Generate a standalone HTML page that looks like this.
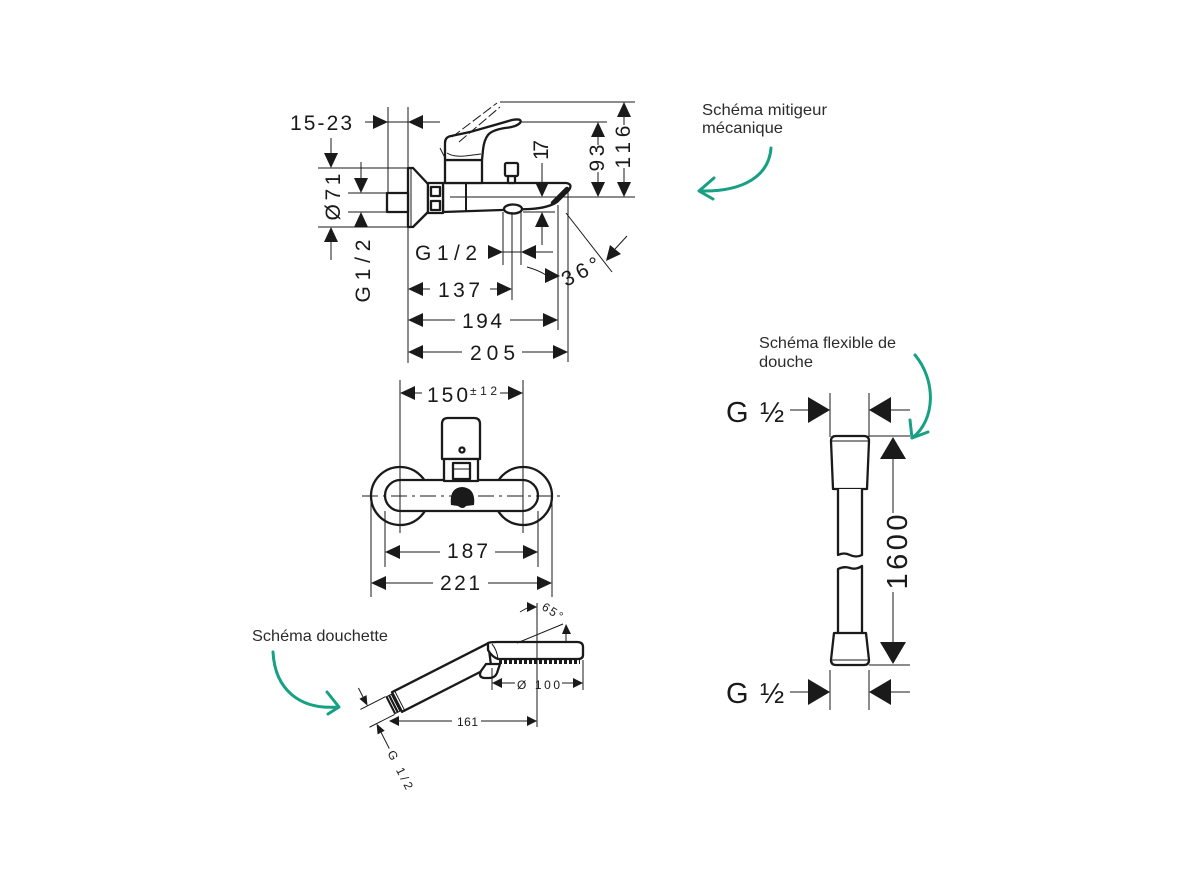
<!DOCTYPE html>
<html><head><meta charset="utf-8">
<style>
html,body{margin:0;padding:0;background:#fff;}
svg{display:block;}
.d{stroke:#1a1a1a;stroke-width:1;fill:none;}
.o{stroke:#1a1a1a;stroke-width:2.3;fill:#fff;stroke-linejoin:round;}
.a{fill:#1a1a1a;stroke:none;}
.t{font-family:"Liberation Sans",sans-serif;font-size:21px;fill:#1a1a1a;}
.s{font-family:"Liberation Sans",sans-serif;font-size:12px;fill:#1a1a1a;}
.h{font-family:"Liberation Sans","DejaVu Sans",sans-serif;font-size:29px;fill:#1a1a1a;}
.l{font-family:"Liberation Sans","DejaVu Sans",sans-serif;font-size:16px;fill:#2b2b2b;}
.g{stroke:#17a083;stroke-width:3;fill:none;stroke-linecap:round;stroke-linejoin:round;}
</style></head><body>
<svg width="1186" height="889" viewBox="0 0 1186 889" xmlns="http://www.w3.org/2000/svg">
<rect width="1186" height="889" fill="#fff"/>

<!-- ================= TOP FAUCET (side view) ================= -->
<!-- body -->
<path class="o" d="M443,183 H566 Q573,184 569,190 L557,202 Q548,208 530,209 L443,212 Z"/>
<line x1="567" y1="189" x2="553" y2="203" stroke="#1a1a1a" stroke-width="4.5" stroke-linecap="round"/>
<line x1="466" y1="183" x2="466" y2="212" stroke="#1a1a1a" stroke-width="2"/>
<ellipse cx="513" cy="209" rx="9" ry="4.5" class="o" stroke-width="2"/>
<!-- diverter knob -->
<rect x="508" y="176" width="7" height="7" class="o" stroke-width="2"/>
<rect x="505" y="163" width="13" height="13" rx="1.5" class="o" stroke-width="2"/>
<!-- housing -->
<rect x="445" y="160" width="37" height="23" class="o"/>
<!-- lever -->
<path class="o" d="M445,160 V143 Q445,137 451,136 L470,132 Q495,125 512,120 Q523,118 520,123 Q516,127 505,128 Q492,130 488,135 Q484,140 483,150 L482,160 Z"/>
<path class="d" stroke-width="1.5" d="M447,153 Q453,157 465,156 L481,154"/>
<!-- ghost lever -->
<path class="d" stroke-dasharray="10 3" d="M452,137 L497,103 M459,142 L500,107 M440,148 L445,158"/>
<!-- rosette, nut, stub -->
<polygon class="o" points="408,168 413,168 428,184 428,212 413,227 408,227"/>
<line x1="411" y1="169" x2="411" y2="226" class="d"/>
<rect x="428" y="183" width="15" height="30" class="o"/>
<rect x="431" y="187" width="9" height="9" class="o" stroke-width="2"/>
<rect x="431" y="201" width="9" height="9" class="o" stroke-width="2"/>
<rect x="387" y="193" width="21" height="19" class="o"/>

<!-- dimension lines -->
<path class="d" d="M365,122H440 M388,107V193 M408,107V363 M318,168H408 M318,227H408 M348,193H387 M348,212H387
M331,138V155 M331,242V260 M361,162V180
M450,197H635 M500,102H635 M520,122H607
M624,117V125 M624,168V182 M598,137V145 M598,172V182
M542,163V182 M542,227V245 M523,212H555
M503,212V265 M512,212V300 M521,212V265 M503,252H521 M536,252H553
M566,213L612,272 M615,249L627,236 M527,267Q538,270 546,275
M558,205V330 M568,192V362
M423,289H430 M490,289H497 M423,320H455 M510,320H543 M423,352H462 M522,352H553"/>
<!-- arrowheads -->
<g class="a">
<polygon points="373,115 388,122 373,129"/>
<polygon points="423,115 408,122 423,129"/>
<polygon points="324,153 331,168 338,153"/>
<polygon points="324,242 331,227 338,242"/>
<polygon points="354,178 361,193 368,178"/>
<polygon points="354,227 361,212 368,227"/>
<polygon points="535,182 542,197 549,182"/>
<polygon points="535,227 542,212 549,227"/>
<polygon points="591,137 598,122 605,137"/>
<polygon points="591,182 598,197 605,182"/>
<polygon points="617,117 624,102 631,117"/>
<polygon points="617,182 624,197 631,182"/>
<polygon points="488,245 503,252 488,259"/>
<polygon points="536,245 521,252 536,259"/>
<polygon points="621,254 606,261 610,245"/>
<polygon points="545,268 560,276 545,283"/>
<polygon points="423,282 408,289 423,296"/>
<polygon points="497,282 512,289 497,296"/>
<polygon points="423,313 408,320 423,327"/>
<polygon points="543,313 558,320 543,327"/>
<polygon points="423,345 408,352 423,359"/>
<polygon points="553,345 568,352 553,359"/>
</g>
<!-- texts -->
<text class="t" x="290" y="130" textLength="62" lengthAdjust="spacing">15-23</text>
<text class="t" transform="translate(340,197) rotate(-90)" text-anchor="middle" textLength="47" lengthAdjust="spacing">Ø71</text>
<text class="t" transform="translate(370,271) rotate(-90)" text-anchor="middle" textLength="63" lengthAdjust="spacing">G1/2</text>
<text class="t" transform="translate(548,150) rotate(-90)" text-anchor="middle" textLength="20" lengthAdjust="spacing">17</text>
<text class="t" transform="translate(604,158) rotate(-90)" text-anchor="middle" textLength="27" lengthAdjust="spacing">93</text>
<text class="t" transform="translate(630,147) rotate(-90)" text-anchor="middle" textLength="43" lengthAdjust="spacing">116</text>
<text class="t" x="415" y="260" textLength="62" lengthAdjust="spacing">G1/2</text>
<text class="t" x="438" y="297" textLength="42" lengthAdjust="spacing">137</text>
<text class="t" x="462" y="328" textLength="40" lengthAdjust="spacing">194</text>
<text class="t" x="470" y="360" textLength="45" lengthAdjust="spacing">205</text>
<text class="t" transform="translate(566,287) rotate(-27)" textLength="40" lengthAdjust="spacing">36°</text>

<!-- ================= FRONT VIEW ================= -->
<circle cx="400" cy="496" r="29" class="o" stroke-width="2"/>
<circle cx="523" cy="496" r="29" class="o" stroke-width="2"/>
<rect x="385" y="480" width="153" height="31" rx="15.5" class="o"/>
<path class="o" d="M442,459 V424 Q442,418 448,418 H474 Q480,418 480,424 V459 Z"/>
<rect x="444" y="459" width="34" height="22" class="o" stroke-width="2"/>
<rect x="453" y="463" width="17" height="16" class="o" stroke-width="1.6"/>
<line x1="453" y1="469" x2="470" y2="469" class="d"/>
<circle cx="462" cy="450" r="2.5" class="o" stroke-width="1.5"/>
<path class="a" d="M451,505 Q449,488 462,487 Q476,488 474,505 L466,506 Q463,510 458,506 Z"/>
<path class="d" stroke-dasharray="16 5 3 5" d="M362,496H560"/>
<path class="d" d="M400,491V501 M523,491V501"/>
<path class="d" d="M400,380V533 M523,380V533 M415,393H422 M500,393H508
M385,511V567 M538,511V567 M371,496V597 M552,496V597
M400,552H440 M495,552H523 M386,583H433 M488,583H537"/>
<g class="a">
<polygon points="415,386 400,393 415,400"/>
<polygon points="508,386 523,393 508,400"/>
<polygon points="400,545 385,552 400,559"/>
<polygon points="523,545 538,552 523,559"/>
<polygon points="386,576 371,583 386,590"/>
<polygon points="537,576 552,583 537,590"/>
</g>
<text class="t" x="427" y="402" textLength="41" lengthAdjust="spacing">150</text>
<text class="s" x="470" y="395" textLength="27" lengthAdjust="spacing">±12</text>
<text class="t" x="447" y="558" textLength="41" lengthAdjust="spacing">187</text>
<text class="t" x="440" y="590" textLength="40" lengthAdjust="spacing">221</text>

<!-- ================= HAND SHOWER ================= -->
<g transform="translate(397,702) rotate(-27)">
  <path class="o" stroke-width="1.6" d="M0,-11 H108 L100,11 H0 Z"/>
  <path class="d" d="M3,-10 V10"/>
  <rect x="-8" y="-10" width="8" height="20" class="a"/>
  <path stroke="#fff" stroke-width="0.8" d="M-5.5,-9V9 M-2.5,-9V9"/>
  <path class="d" stroke-width="0.8" d="M-8,-10H-36 M-8,10H-36 M-28,-30V-20 M-28,20V38"/>
  <polygon class="a" points="-32,-20 -28,-10 -24,-20"/>
  <polygon class="a" points="-32,20 -28,10 -24,20"/>
  <text class="s" transform="translate(-32,41) rotate(90)" textLength="42" lengthAdjust="spacing">G 1/2</text>
</g>
<path class="o" stroke-width="1.8" d="M488,643 Q490,642 497,642 L577,642 Q583,642 583,647 L583,655 Q583,659 578,659 L498,659 Q492,657 488,650 Z"/>
<path class="d" stroke-width="1.2" d="M492,644 Q497,650 498,659"/>
<line x1="499" y1="662" x2="580" y2="662" stroke="#1a1a1a" stroke-width="4" stroke-dasharray="3 2"/>
<path class="o" stroke-width="1.8" d="M500,664 L497,673 Q495,678 489,678 L484,678 Q478,677 481,671 L486,664 Z"/>
<path class="d" d="M517,643 L563,624 M537,603V727 M566,633V642 M520,612 L527,608
M492,668V690 M583,660V690 M502,683H515 M562,683H573 M399,721H452 M481,721H527"/>
<g class="a">
<polygon points="527,602 537,607 527,612"/>
<polygon points="562,634 566,624 571,634"/>
<polygon points="502,678 492,683 502,688"/>
<polygon points="573,678 583,683 573,688"/>
<polygon points="399,716 389,721 399,726"/>
<polygon points="527,716 537,721 527,726"/>
</g>
<text class="s" x="517" y="689" textLength="43" lengthAdjust="spacing">Ø 100</text>
<text class="s" x="457" y="726" textLength="21" lengthAdjust="spacing">161</text>
<text class="s" transform="translate(541,609) rotate(32)" textLength="22" lengthAdjust="spacing">65°</text>

<!-- ================= HOSE ================= -->
<path class="o" stroke-width="2" d="M833,489 L831,441 Q831,436 836,436 L864,436 Q869,436 869,441 L867,489 Z"/>
<line x1="831" y1="441" x2="869" y2="441" class="d" stroke-width="1.5"/>
<path class="o" stroke-width="2" fill="none" d="M838,489 V555 Q844,552 850,555 Q856,558 862,555 V489"/>
<path class="o" stroke-width="2" fill="none" d="M838,633 V569 Q844,566 850,568 Q856,570 862,566 V633"/>
<path class="o" stroke-width="2" d="M834,633 L866,633 L869,660 Q869,665 864,665 L836,665 Q831,665 831,660 Z"/>
<line x1="831" y1="660" x2="869" y2="660" class="d" stroke-width="1.5"/>
<path class="d" stroke-width="1.3" d="M830,393V437 M869,393V437 M790,410H808 M891,410H910
M830,670V710 M869,670V710 M790,692H808 M891,692H910
M869,436H910 M869,665H910 M893,459V513 M893,592V642"/>
<g class="a">
<polygon points="808,397 830,410 808,423"/>
<polygon points="891,397 869,410 891,423"/>
<polygon points="808,679 830,692 808,705"/>
<polygon points="891,679 869,692 891,705"/>
<polygon points="880,459 893,437 906,459"/>
<polygon points="880,642 893,664 906,642"/>
</g>
<text class="h" x="726" y="422">G</text>
<text class="h" x="760" y="422">½</text>
<text class="h" x="726" y="703">G</text>
<text class="h" x="760" y="703">½</text>
<text class="h" font-size="31" transform="translate(907,552) rotate(-90)" text-anchor="middle" textLength="75" lengthAdjust="spacing">1600</text>

<!-- ================= LABELS + GREEN ARROWS ================= -->
<text class="l" x="702" y="115" textLength="125" lengthAdjust="spacingAndGlyphs">Schéma mitigeur</text>
<text class="l" x="702" y="133" textLength="81" lengthAdjust="spacingAndGlyphs">mécanique</text>
<path class="g" d="M771,148 C769,175 745,192 700,191 M714,178 L699,191 L713,199"/>

<text class="l" x="759" y="348" textLength="137" lengthAdjust="spacingAndGlyphs">Schéma flexible de</text>
<text class="l" x="759" y="367" textLength="54" lengthAdjust="spacingAndGlyphs">douche</text>
<path class="g" d="M915,355 C936,380 936,420 912,438 M910,420 L912,438 L928,432"/>

<text class="l" x="252" y="641" textLength="136" lengthAdjust="spacingAndGlyphs">Schéma douchette</text>
<path class="g" d="M273,652 C275,690 300,710 338,707 M327,692 L339,707 L328,714"/>
</svg>
</body></html>
